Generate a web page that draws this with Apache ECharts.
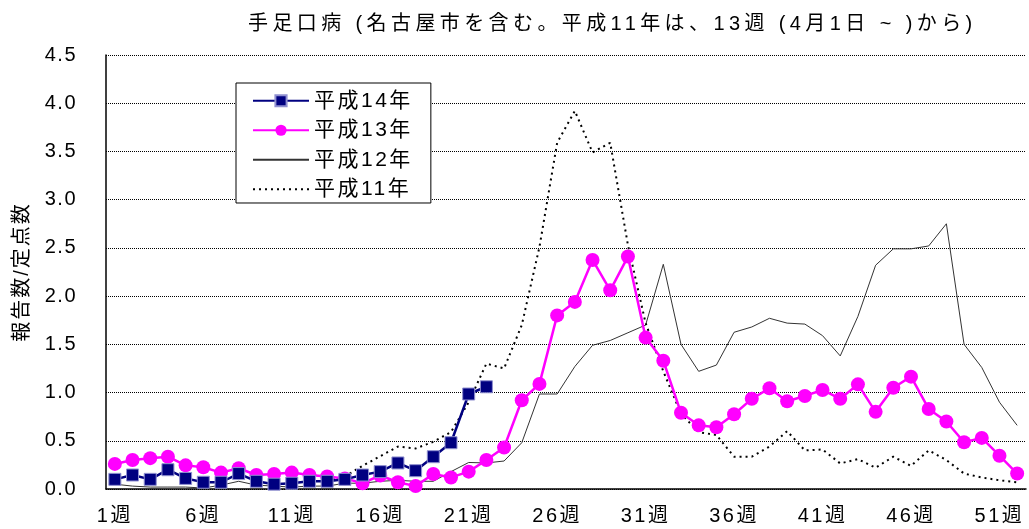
<!DOCTYPE html>
<html><head><meta charset="utf-8">
<script src="https://cdn.jsdelivr.net/npm/echarts@6/dist/echarts.min.js"></script>
<style>html,body{margin:0;padding:0;background:#fff}#c{width:1029px;height:529px}</style>
</head><body><div id="c"></div>
<script>
// letter-spacing support for canvas text: a pseudo family "LSn" sets n px spacing
(function(){
  const P = window.CanvasRenderingContext2D && CanvasRenderingContext2D.prototype;
  if(!P) return;
  const d = Object.getOwnPropertyDescriptor(P,'font');
  if(!d || !('letterSpacing' in P)) return;
  Object.defineProperty(P,'font',{configurable:true,enumerable:d.enumerable,
    get(){return d.get.call(this);},
    set(v){d.set.call(this,v);const m=/LS(\d+(?:\.\d+)?)/.exec(String(v));this.letterSpacing=m?m[1]+'px':'0px';}});
})();

const weeks = Array.from({length:52},(_,i)=>(i+1)+'週');
const h14 = [0.10,0.145,0.10,0.20,0.11,0.07,0.07,0.16,0.08,0.05,0.06,0.08,0.08,0.10,0.145,0.18,0.27,0.19,0.335,0.48,0.985,1.06];
const h13 = [0.26,0.30,0.32,0.335,0.245,0.225,0.17,0.215,0.145,0.155,0.17,0.145,0.13,0.11,0.06,0.14,0.07,0.03,0.155,0.12,0.18,0.30,0.43,0.92,1.09,1.80,1.94,2.375,2.06,2.41,1.57,1.33,0.79,0.66,0.64,0.775,0.935,1.045,0.91,0.965,1.027,0.935,1.085,0.80,1.05,1.165,0.83,0.70,0.485,0.53,0.345,0.16];
const h12 = [0.05,0.03,0.02,0.02,0.02,0.01,0.04,0.08,0.04,0.03,0.02,0.03,0.03,0.06,0.06,0.08,0.09,0.08,0.08,0.18,0.275,0.27,0.29,0.48,0.985,0.985,1.27,1.49,1.54,1.62,1.70,2.33,1.50,1.22,1.285,1.625,1.68,1.77,1.72,1.71,1.59,1.38,1.79,2.32,2.49,2.49,2.52,2.75,1.50,1.26,0.90,0.66];
const h11 = [null,null,null,null,null,null,null,null,null,null,null,null,0.08,0.13,0.24,0.34,0.44,0.42,0.49,0.59,0.90,1.30,1.25,1.70,2.51,3.59,3.92,3.49,3.59,2.53,1.72,1.22,0.78,0.59,0.56,0.335,0.335,0.44,0.60,0.40,0.41,0.265,0.31,0.22,0.335,0.24,0.40,0.30,0.16,0.12,0.09,0.07];
const yTicks = ['0.0','0.5','1.0','1.5','2.0','2.5','3.0','3.5','4.0','4.5'];

const FONT = '"Liberation Sans","Noto Sans CJK JP",sans-serif';
const F = n => '"LS'+n+'",'+FONT;
const hidden = {color:'rgba(0,0,0,0)',borderColor:'rgba(0,0,0,0)',borderWidth:0};
const chart = echarts.init(document.getElementById('c'));
chart.setOption({
  animation:false,
  textStyle:{fontFamily:FONT,color:'#000'},
  title:{text:'手足口病 (名古屋市を含む。平成11年は、13週 (4月1日 ~ )から)',left:243,top:7,
    textStyle:{fontSize:20,fontWeight:'normal',color:'#000',fontFamily:F(4.4)}},
  grid:{left:106,right:3,top:55,bottom:40,containLabel:false},
  legend:{orient:'vertical',left:236,top:83,backgroundColor:'#fff',borderColor:'#000',borderWidth:1,
    padding:[6,18,2,16],itemWidth:56,itemHeight:14,itemGap:6,
    textStyle:{fontSize:21,color:'#000',fontFamily:F(2.5)},
    data:[{name:'平成14年'},{name:'平成13年'},
      {name:'平成12年',itemStyle:hidden},{name:'平成11年',itemStyle:hidden}]},
  xAxis:{type:'category',data:weeks,boundaryGap:true,
    axisLine:{lineStyle:{color:'#000',width:1.5}},
    axisTick:{inside:true,length:6,interval:0,lineStyle:{color:'#000'}},
    axisLabel:{interval:4,fontSize:20,color:'#000',margin:16,fontFamily:F(2.5)},
    splitLine:{show:false}},
  yAxis:{type:'value',min:0,max:4.5,interval:0.5,
    name:'報告数/定点数',nameLocation:'middle',nameGap:71,nameRotate:90,
    nameTextStyle:{fontSize:20,color:'#000',fontFamily:F(2)},
    axisLine:{show:true,lineStyle:{color:'#000',width:1.5}},
    axisTick:{show:false},
    axisLabel:{fontSize:20,color:'#000',margin:29,fontFamily:F(1.5),
      formatter:v=>yTicks[Math.round(v/0.5)]},
    splitLine:{show:true,lineStyle:{color:'#000',type:[1,1],width:1}}},
  series:[
    {name:'平成12年',type:'line',data:h12,symbol:'none',z:2,
      lineStyle:{color:'#333',width:1},itemStyle:{color:'#333'}},
    {name:'平成11年',type:'line',data:h11,symbol:'none',z:2,connectNulls:false,
      lineStyle:{color:'#000',width:2,type:[2,4]},itemStyle:{color:'#000'}},
    {name:'平成13年',type:'line',data:h13,symbol:'circle',symbolSize:14,showAllSymbol:true,z:3,
      lineStyle:{color:'#ff00ff',width:2.5},itemStyle:{color:'#ff00ff'}},
    {name:'平成14年',type:'line',data:h14,symbol:'rect',symbolSize:12,showAllSymbol:true,z:4,
      lineStyle:{color:'#000080',width:2.5},itemStyle:{color:'#000080',borderColor:'#9090d0',borderWidth:1}}
  ]
});
</script></body></html>
